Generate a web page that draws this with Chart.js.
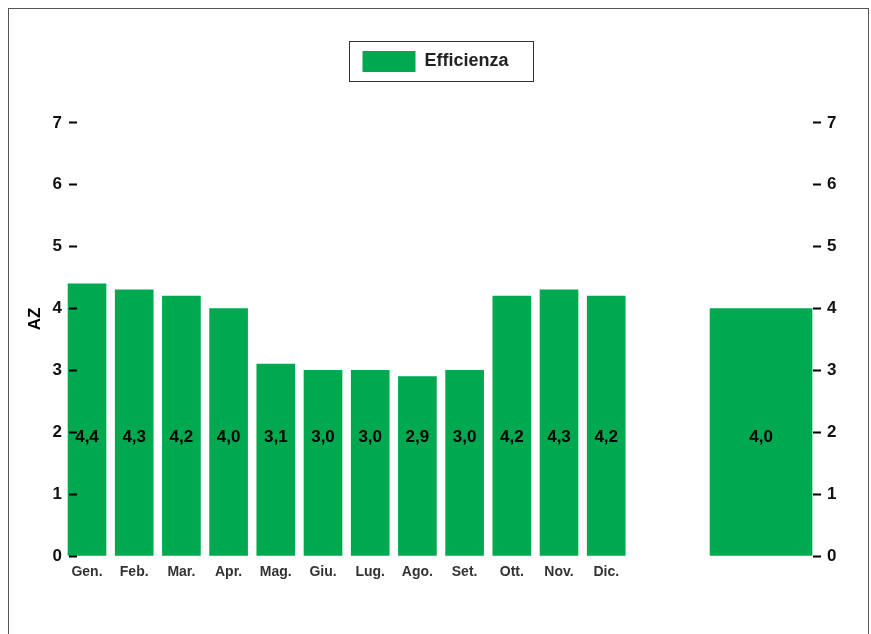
<!DOCTYPE html>
<html>
<head>
<meta charset="utf-8">
<script src="https://cdn.jsdelivr.net/npm/chart.js@4/dist/chart.umd.min.js"></script>
<style>
  html, body { margin: 0; padding: 0; background: #fff; }
  #wrap { position: relative; width: 871px; height: 634px; overflow: hidden; }
  #frame { position: absolute; left: 8px; top: 8px; width: 859px; height: 700px; border: 1px solid #555; }
  canvas { position: absolute; left: 0; top: 0; }
</style>
</head>
<body>
<div id="wrap">
  <div id="frame"></div>
  <canvas id="chart" width="871" height="634"></canvas>
</div>
<script>
const months = ['Gen.', 'Feb.', 'Mar.', 'Apr.', 'Mag.', 'Giu.', 'Lug.', 'Ago.', 'Set.', 'Ott.', 'Nov.', 'Dic.'];
const efficienza = [4.4, 4.3, 4.2, 4.0, 3.1, 3.0, 3.0, 2.9, 3.0, 4.2, 4.3, 4.2];
const annualValue = [4.0];

// where the yearly bar sits on the x axis (in month slots) and the height of the value labels
const annualSlot = 14.28;
const labelLevel = 1.92;
// headroom above the last tick so the 7 sits below the legend
const yTop = 7.66;

const GREEN = '#00a94f';
const FONT = '"Liberation Sans", Arial, sans-serif';
Chart.defaults.font.family = FONT;

const fmt = (v) => v.toFixed(1).replace('.', ',');

// value written inside every bar, all on the same line
const valueLabels = {
	id: 'valueLabels',
	afterDatasetsDraw(chart) {
		const { ctx } = chart;
		const y = chart.scales.y.getPixelForValue(labelLevel);
		ctx.save();
		ctx.font = 'bold 17px ' + FONT;
		ctx.fillStyle = '#000';
		ctx.textAlign = 'center';
		ctx.textBaseline = 'middle';
		chart.data.datasets.forEach((ds, di) => {
			chart.getDatasetMeta(di).data.forEach((bar, i) => {
				ctx.fillText(fmt(ds.data[i].y), bar.x, y);
			});
		});
		ctx.restore();
	}
};

// thin box around the legend entry
const legendFrame = {
	id: 'legendFrame',
	afterDraw(chart) {
		const hb = chart.legend && chart.legend.legendHitBoxes[0];
		if (!hb) return;
		const { ctx } = chart;
		ctx.save();
		ctx.strokeStyle = '#333';
		ctx.lineWidth = 1;
		ctx.strokeRect(Math.round(hb.left - 13) + 0.5, Math.round(hb.top - 10) + 0.5,
			Math.round(hb.width + 38), Math.round(hb.height + 19));
		ctx.restore();
	}
};

const tickGrid = {
	drawOnChartArea: false,
	drawTicks: true,
	tickLength: 8,
	tickWidth: 2,
	tickColor: '#000',
	z: 1
};

new Chart(document.getElementById('chart'), {
	type: 'bar',
	data: {
		datasets: [{
			label: 'Efficienza',
			data: efficienza.map((v, i) => ({ x: i, y: v })),
			backgroundColor: GREEN,
			borderWidth: 0,
			barThickness: 38,
			stack: 'all',
			clip: false
		}, {
			label: 'Media',
			data: annualValue.map((v) => ({ x: annualSlot, y: v })),
			backgroundColor: GREEN,
			borderWidth: 0,
			barThickness: 102,
			stack: 'all',
			clip: false
		}]
	},
	options: {
		responsive: false,
		animation: false,
		layout: { padding: { top: 41, left: 0, right: 0, bottom: 0 } },
		scales: {
			x: {
				type: 'linear',
				offset: false,
				min: -0.212,
				max: 15.381,
				grid: { display: false },
				border: { display: false },
				afterBuildTicks: (s) => { s.ticks = months.map((_, i) => ({ value: i })); },
				afterFit: (s) => { s.height = 78; },
				ticks: {
					autoSkip: false,
					maxRotation: 0,
					padding: 0,
					color: '#333',
					font: { size: 14, weight: 'bold' },
					callback: (v) => months[v]
				}
			},
			y: {
				position: 'left',
				min: 0,
				max: yTop,
				stacked: false,
				grid: tickGrid,
				border: { display: false },
				afterFit: (s) => { s.width = 77; },
				title: {
					display: true,
					text: 'AZ',
					color: '#000',
					font: { size: 17, weight: 'bold' },
					padding: { top: 25, bottom: 0 }
				},
				ticks: {
					stepSize: 1,
					includeBounds: false,
					padding: 7,
					color: '#111',
					font: { size: 17, weight: 'bold' }
				}
			},
			y2: {
				position: 'right',
				min: 0,
				max: yTop,
				grid: tickGrid,
				border: { display: false },
				afterFit: (s) => { s.width = 58; },
				ticks: {
					stepSize: 1,
					includeBounds: false,
					padding: 6,
					color: '#111',
					font: { size: 17, weight: 'bold' }
				}
			}
		},
		plugins: {
			tooltip: { enabled: false },
			legend: {
				position: 'top',
				labels: {
					boxWidth: 53,
					boxHeight: 21,
					padding: 10,
					color: '#222',
					font: { size: 18, weight: 'bold' },
					filter: (item) => item.datasetIndex === 0
				}
			}
		}
	},
	plugins: [valueLabels, legendFrame]
});
</script>
</body>
</html>
